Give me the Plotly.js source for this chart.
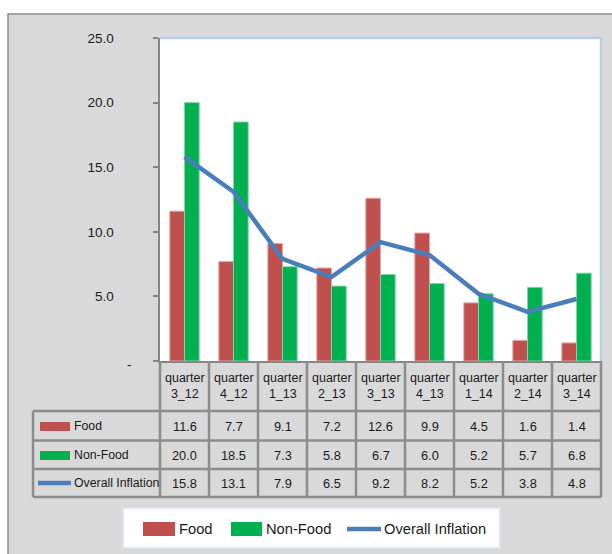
<!DOCTYPE html>
<html><head><meta charset="utf-8">
<script src="https://cdn.plot.ly/plotly-3.0.1.min.js"></script>
<style>html,body{margin:0;padding:0;background:#fff}</style>
</head><body>
<div id="chart" style="width:612px;height:554px"></div>
<script>
// ---- data ----
const categories = ["quarter 3_12","quarter 4_12","quarter 1_13","quarter 2_13","quarter 3_13","quarter 4_13","quarter 1_14","quarter 2_14","quarter 3_14"];
const seriesNames = ["Food","Non-Food","Overall Inflation"];
const food = [11.6, 7.7, 9.1, 7.2, 12.6, 9.9, 4.5, 1.6, 1.4];
const nonFood = [20.0, 18.5, 7.3, 5.8, 6.7, 6.0, 5.2, 5.7, 6.8];
const overall = [15.8, 13.1, 7.9, 6.5, 9.2, 8.2, 5.2, 3.8, 4.8];
const yTickVals = [0, 5, 10, 15, 20, 25];
const yTickText = ["", "5.0", "10.0", "15.0", "20.0", "25.0"];
const zeroLabel = "-";

// ---- styles ----
const FONT = '"Liberation Sans", Arial, sans-serif';
const TXT = '#1a1a1a';
const RED = '#c0504d', GREEN = '#00b050', BLUE = '#4a7ebb';
const GRID = '#8c8c8c';
const L = 160, R = 601, T = 38, B = 361;
const px = x => (x - L) / (R - L);
const py = y => (B - y) / (B - T);
const headerLabels = categories.map(c => c.replace(' ', '<br>'));
const n = categories.length;
const TS = 12.3;

const traces = [
  {type:'bar', name:seriesNames[0], x:categories, y:food, marker:{color:RED, line:{color:'#e6a9a7', width:1}}},
  {type:'bar', name:seriesNames[1], x:categories, y:nonFood, marker:{color:GREEN, line:{color:'#7fd8a8', width:1}}},
  {type:'scatter', mode:'lines', name:seriesNames[2], x:categories, y:overall, line:{color:BLUE, width:4.5}}
];

const shapes = [];
const annotations = [];
function txt(xref, x, y, text, size, xanchor) {
  annotations.push({xref:xref, yref:'paper', x:x, y:y, text:text, showarrow:false, xanchor:xanchor || 'center', yanchor:'middle', align:'center', borderpad:0, font:{family:FONT, size:size, color:TXT}});
}
// outer grey chart area
shapes.push({type:'rect', xref:'paper', yref:'paper', layer:'below', x0:px(8), x1:px(640), y0:py(14), y1:py(580), fillcolor:'#d9d9d9', line:{color:'#8c8c8c', width:1.5}});
// plot area
shapes.push({type:'rect', xref:'paper', yref:'paper', layer:'below', x0:0, x1:1, y0:0, y1:1, fillcolor:'#ffffff', line:{width:0}});
shapes.push({type:'line', xref:'paper', yref:'paper', layer:'above', x0:0, x1:1, y0:1, y1:1, line:{color:'#b9cde5', width:2.5}});
shapes.push({type:'line', xref:'paper', yref:'paper', layer:'above', x0:1, x1:1, y0:0, y1:1, line:{color:'#b9cde5', width:2.5}});

// data table grid
const rowLines = [411, 440.5, 469, 497];
for (let k = 0; k <= n; k++) {
  shapes.push({type:'line', xref:'paper', yref:'paper', x0:k/n, x1:k/n, y0:py(361), y1:py(497), line:{color:GRID, width:2.5}});
}
shapes.push({type:'line', xref:'paper', yref:'paper', x0:px(33), x1:px(33), y0:py(411), y1:py(497), line:{color:GRID, width:2.5}});
rowLines.forEach(yy => shapes.push({type:'line', xref:'paper', yref:'paper', x0:px(33), x1:1, y0:py(yy), y1:py(yy), line:{color:GRID, width:2.5}}));

// header labels
categories.forEach((c, i) => txt('x', c, py(386), headerLabels[i], 12.5));
// rows
const rows = [food, nonFood, overall];
const rowCenters = [426, 455, 483];
rows.forEach((vals, r) => {
  vals.forEach((v, i) => txt('x', categories[i], py(rowCenters[r]), v.toFixed(1), 12.8));
  txt('paper', px(73), py(rowCenters[r]), seriesNames[r], TS, 'left');
});
// row keys
shapes.push({type:'rect', xref:'paper', yref:'paper', x0:px(40), x1:px(70), y0:py(431), y1:py(422), fillcolor:RED, line:{width:0}});
shapes.push({type:'rect', xref:'paper', yref:'paper', x0:px(40), x1:px(70), y0:py(460), y1:py(451), fillcolor:GREEN, line:{width:0}});
shapes.push({type:'line', xref:'paper', yref:'paper', x0:px(38), x1:px(71), y0:py(483), y1:py(483), line:{color:BLUE, width:4.5}});

// zero tick label
annotations.push({xref:'paper', yref:'y', x:px(125), y:0, yshift:-3, yanchor:'middle', text:zeroLabel, showarrow:false, font:{family:FONT, size:13.5, color:TXT}});

// bottom legend
shapes.push({type:'rect', xref:'paper', yref:'paper', x0:px(123), x1:px(500), y0:py(548), y1:py(508), fillcolor:'#ffffff', line:{color:'#dce6f2', width:2}});
shapes.push({type:'rect', xref:'paper', yref:'paper', x0:px(143), x1:px(175), y0:py(536), y1:py(522), fillcolor:RED, line:{width:0}});
shapes.push({type:'rect', xref:'paper', yref:'paper', x0:px(231), x1:px(262), y0:py(536), y1:py(522), fillcolor:GREEN, line:{width:0}});
shapes.push({type:'line', xref:'paper', yref:'paper', x0:px(347), x1:px(381), y0:py(529), y1:py(529), line:{color:BLUE, width:4.5}});
[[178, 0], [265, 1], [383, 2]].forEach(([xx, s]) => txt('paper', px(xx), py(529), seriesNames[s], 14.7, 'left'));

const layout = {
  width:612, height:554,
  margin:{l:L, r:612-R, t:T, b:554-B, pad:0},
  paper_bgcolor:'#ffffff', plot_bgcolor:'#ffffff',
  showlegend:false,
  barmode:'group', bargap:0.4, bargroupgap:0,
  font:{family:FONT, size:13.5, color:TXT},
  xaxis:{type:'category', showticklabels:false, ticks:'', showgrid:false, zeroline:false, showline:true, linecolor:'#868686', linewidth:2, range:[-0.5, n-0.5], fixedrange:true},
  yaxis:{range:[0,25], tickvals:yTickVals, ticktext:yTickText, showgrid:false, zeroline:false, showline:true, linecolor:'#868686', linewidth:2.5, ticks:'outside', ticklen:5, tickwidth:2, tickcolor:'#868686', ticklabelstandoff:36, tickfont:{family:FONT, size:13.5, color:TXT}, fixedrange:true},
  shapes:shapes, annotations:annotations
};
Plotly.newPlot('chart', traces, layout, {displayModeBar:false, staticPlot:true});
</script>
</body></html>
